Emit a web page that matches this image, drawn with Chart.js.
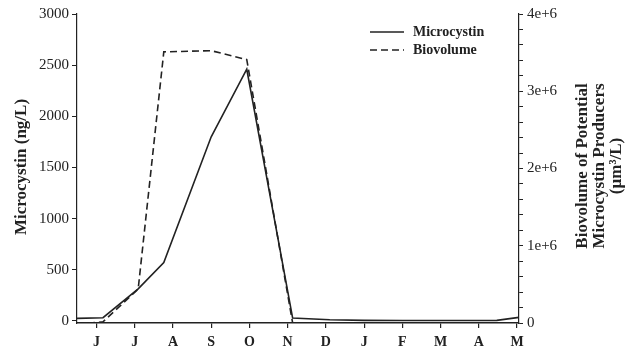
<!DOCTYPE html>
<html>
<head>
<meta charset="utf-8">
<script src="https://cdn.jsdelivr.net/npm/chart.js@4"></script>
<style>
  html, body { margin: 0; padding: 0; background: #fff; }
  #wrap { width: 631px; height: 356px; }
</style>
</head>
<body>
<div id="wrap"><canvas id="chart" width="631" height="356"></canvas></div>
<script>
// month tick labels (June .. May)
var monthLabels = ['J', 'J', 'A', 'S', 'O', 'N', 'D', 'J', 'F', 'M', 'A', 'M'];
var monthTicks = [0, 1, 2, 3, 4, 5, 6, 7, 8, 9, 10, 11];

// sampling times, in months after the June tick
var sampleMonths = [-0.51, 0.17, 1.09, 1.76, 3.0, 3.93, 5.13, 6.1, 7.0, 8.0, 9.0, 10.47, 11.05];
var microcystin = [25, 32, 313, 570, 1800, 2460, 28, 12, 6, 5, 5, 6, 35];
var biovolume = [-15000, 15000, 440000, 3510000, 3525000, 3410000, 0, 0, 0, 0, 0, 0, 0];

var leftTicks = [0, 500, 1000, 1500, 2000, 2500, 3000];
var rightTicks = [];
for (var i = 0; i <= 20; i++) rightTicks.push(i * 200000);
var rightLabels = { 0: '0', 1000000: '1e+6', 2000000: '2e+6', 3000000: '3e+6', 4000000: '4e+6' };

var serif = '"Liberation Serif", "Times New Roman", serif';

function pts(xs, ys) {
    return xs.map(function (x, k) { return { x: x, y: ys[k] }; });
}

var titlesPlugin = {
    id: 'titles',
    afterDraw: function (chart) {
        var ctx = chart.ctx;
        ctx.save();
        ctx.fillStyle = '#222';
        ctx.font = 'bold 17px ' + serif;
        ctx.textAlign = 'center';
        ctx.textBaseline = 'middle';

        ctx.save();
        ctx.translate(22, 167);
        ctx.rotate(-Math.PI / 2);
        ctx.fillText('Microcystin (ng/L)', 0, 0);
        ctx.restore();

        ctx.save();
        ctx.translate(583, 166);
        ctx.rotate(-Math.PI / 2);
        ctx.fillText('Biovolume of Potential', 0, 0);
        ctx.fillText('Microcystin Producers', 0, 17);
        ctx.fillText('(\u00b5m\u00b3/L)', 0, 34);
        ctx.restore();

        // legend
        ctx.font = 'bold 14px ' + serif;
        ctx.textAlign = 'left';
        chart.data.datasets.forEach(function (ds, k) {
            var y = 32 + k * 18;
            ctx.strokeStyle = '#222';
            ctx.lineWidth = 1.6;
            ctx.setLineDash(ds.borderDash || []);
            ctx.beginPath();
            ctx.moveTo(370, y);
            ctx.lineTo(404, y);
            ctx.stroke();
            ctx.setLineDash([]);
            ctx.fillText(ds.label, 413, y);
        });
        ctx.restore();
    }
};

new Chart(document.getElementById('chart').getContext('2d'), {
    type: 'line',
    data: {
        datasets: [{
            label: 'Microcystin',
            data: pts(sampleMonths, microcystin),
            yAxisID: 'y',
            borderColor: '#222',
            borderWidth: 1.6,
            pointRadius: 0,
            tension: 0,
            fill: false
        }, {
            label: 'Biovolume',
            data: pts(sampleMonths, biovolume),
            yAxisID: 'y2',
            borderColor: '#222',
            borderWidth: 1.6,
            borderDash: [7, 4],
            pointRadius: 0,
            tension: 0,
            fill: false
        }]
    },
    options: {
        responsive: false,
        animation: false,
        layout: { padding: { top: 14, left: 0, right: 0, bottom: 0 } },
        plugins: { legend: { display: false }, tooltip: { enabled: false } },
        scales: {
            x: {
                type: 'linear',
                min: -0.51,
                max: 11.05,
                afterBuildTicks: function (s) { s.ticks = monthTicks.map(function (v) { return { value: v }; }); },
                afterFit: function (s) { s.height = 33; },
                border: { display: true, color: '#222', width: 1.5 },
                grid: { drawOnChartArea: false, tickLength: 5, color: '#222', lineWidth: 1.2 },
                ticks: {
                    autoSkip: false,
                    maxRotation: 0,
                    padding: 6,
                    color: '#222',
                    font: { family: serif, size: 14, weight: 'bold' },
                    callback: function (v) { return monthLabels[v]; }
                }
            },
            y: {
                position: 'left',
                min: -20,
                max: 3000,
                afterBuildTicks: function (s) { s.ticks = leftTicks.map(function (v) { return { value: v }; }); },
                afterFit: function (s) { s.width = 77; },
                border: { display: true, color: '#222', width: 1.2 },
                grid: { drawOnChartArea: false, tickLength: 5, color: '#222', lineWidth: 1 },
                ticks: {
                    autoSkip: false,
                    padding: 3,
                    color: '#222',
                    font: { family: serif, size: 15 },
                    callback: function (v) { return String(v); }
                }
            },
            y2: {
                position: 'right',
                min: 0,
                max: 4000000,
                afterBuildTicks: function (s) { s.ticks = rightTicks.map(function (v) { return { value: v }; }); },
                afterFit: function (s) { s.width = 112; },
                border: { display: true, color: '#222', width: 1.2 },
                grid: { drawOnChartArea: false, tickLength: 4, color: '#222', lineWidth: 1 },
                ticks: {
                    autoSkip: false,
                    padding: 4,
                    color: '#222',
                    font: { family: serif, size: 15 },
                    callback: function (v) { return rightLabels[v] !== undefined ? rightLabels[v] : ''; }
                }
            }
        }
    },
    plugins: [titlesPlugin]
});
</script>
</body>
</html>
